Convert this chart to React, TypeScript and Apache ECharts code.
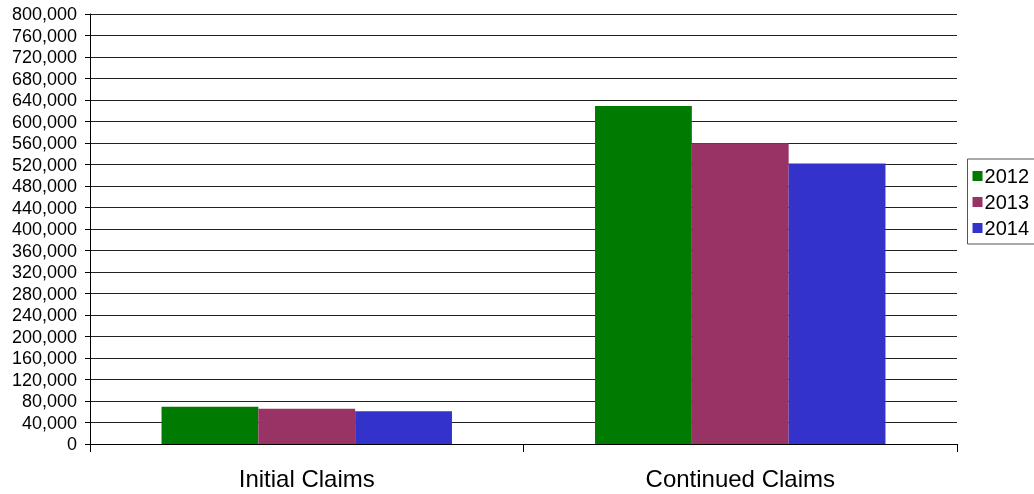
import React, { useEffect, useRef } from "react";
import * as echarts from "echarts";

const categories = ["Initial Claims", "Continued Claims"];
const years = ["2012", "2013", "2014"];
const values2012 = [69500, 629000];
const values2013 = [65700, 559500];
const values2014 = [60800, 522000];
const colors = ["#007A00", "#993366", "#3333CC"];

export default function App() {
  const ref = useRef<HTMLDivElement>(null);
  useEffect(() => {
    if (!ref.current) return;
    const chart = echarts.init(ref.current, null, { renderer: "svg" });
    const font = "'Liberation Sans', Arial, sans-serif";
    const seriesData = [values2012, values2013, values2014];
    chart.setOption({
      animation: false,
      textStyle: { fontFamily: font },
      grid: { left: 90, right: 77, top: 14, bottom: 50, containLabel: false },
      legend: {
        orient: "vertical",
        right: -1,
        top: 159,
        itemWidth: 10,
        itemHeight: 10,
        itemGap: 6,
        padding: [7, 6, 6, 5],
        borderColor: "#555",
        borderWidth: 1,
        icon: "rect",
        textStyle: { fontSize: 20, color: "#000", fontFamily: font, padding: [0, 0, 0, -3] },
        data: years,
      },
      xAxis: {
        type: "category",
        data: categories,
        axisLine: { lineStyle: { color: "#000", width: 1 } },
        axisTick: { show: true, length: 8, lineStyle: { color: "#000" } },
        axisLabel: { fontSize: 24, color: "#000", margin: 22, fontFamily: font },
        splitLine: { show: false },
      },
      yAxis: {
        type: "value",
        min: 0,
        max: 800000,
        interval: 40000,
        axisLine: { show: true, lineStyle: { color: "#000", width: 1 } },
        axisTick: { show: true, length: 5, lineStyle: { color: "#000" } },
        axisLabel: {
          fontSize: 18,
          color: "#000",
          margin: 13,
          fontFamily: font,
          formatter: (v: number) => v.toLocaleString("en-US"),
        },
        splitLine: { show: true, lineStyle: { color: "#222", width: 1 } },
      },
      series: years.map((y, i) => ({
        name: y,
        type: "bar",
        data: seriesData[i],
        itemStyle: { color: colors[i] },
        barGap: "0%",
        barCategoryGap: "33%",
      })),
    });
    return () => chart.dispose();
  }, []);
  return (
    <div
      ref={ref}
      style={{ position: "fixed", left: 0, top: 0, width: 1034, height: 494 }}
    />
  );
}
